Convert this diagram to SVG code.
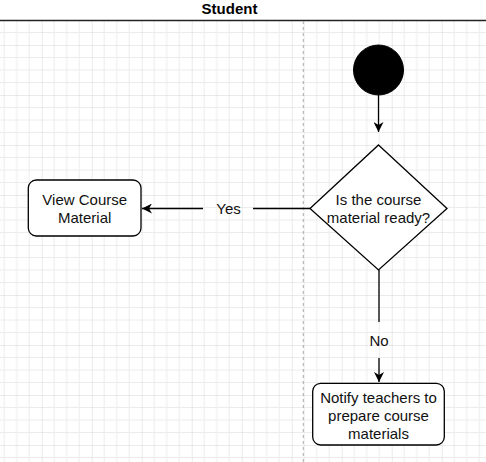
<svg xmlns="http://www.w3.org/2000/svg" width="486" height="462" viewBox="0 0 486 462">
  <style>
    .txt { font-family: "Liberation Sans", Arial, sans-serif; font-size: 15px; fill: #111; text-anchor: middle; dominant-baseline: central; }
    .title { font-family: "Liberation Sans", Arial, sans-serif; font-size: 15px; font-weight: bold; fill: #000; text-anchor: middle; dominant-baseline: central; }
    .node { fill: #fff; stroke: #000; stroke-width: 1.3; }
    .edge { fill: none; stroke: #000; stroke-width: 1.3; }
  </style>
  <defs>
    <pattern id="grid" x="41.7" y="45" width="50" height="50" patternUnits="userSpaceOnUse">
      <path d="M12.5 0V50M25 0V50M37.5 0V50M0 12.5H50M0 25H50M0 37.5H50" stroke="#ececec" stroke-width="1" fill="none"/>
      <path d="M0 0V50M0 0H50" stroke="#d6d6d6" stroke-width="1" fill="none"/>
    </pattern>
    <marker id="arrow" markerWidth="11" markerHeight="10" refX="10" refY="5" orient="auto" markerUnits="userSpaceOnUse">
      <path d="M0,0 L10,5 L0,10 L3,5 Z" fill="#000"/>
    </marker>
  </defs>
  <rect x="0" y="0" width="486" height="462" fill="#fff"/>
  <rect x="0" y="21" width="486" height="441" fill="url(#grid)"/>
  <g id="lane">
    <text class="title" x="229.5" y="8">Student</text>
    <line x1="0" y1="20.5" x2="486" y2="20.5" stroke="#222" stroke-width="1.3"/>
    <line x1="303.3" y1="21" x2="303.3" y2="462" stroke="#aaa" stroke-width="1" stroke-dasharray="3 3"/>
  </g>
  <g id="connectors">
    <line class="edge" x1="378.5" y1="95" x2="378.5" y2="132" marker-end="url(#arrow)"/>
    <path class="edge" d="M310 208.5H253M203 208.5H142" marker-end="url(#arrow)"/>
    <text class="txt" x="228.5" y="208.5">Yes</text>
    <path class="edge" d="M379 270V322M379 358V382" marker-end="url(#arrow)"/>
    <text class="txt" x="379" y="340">No</text>
  </g>
  <g id="start">
    <circle cx="378.5" cy="70" r="25" fill="#000" stroke="#000"/>
  </g>
  <g id="decision">
    <polygon class="node" points="378.5,145 447,208.5 378.5,270 310,208.5"/>
    <text class="txt" x="378.5" y="199.5">Is the course</text>
    <text class="txt" x="378.5" y="217.5">material ready?</text>
  </g>
  <g id="view">
    <rect class="node" x="28.3" y="180" width="112.7" height="56" rx="8"/>
    <text class="txt" x="84.7" y="199.5">View Course</text>
    <text class="txt" x="84.7" y="217.5">Material</text>
  </g>
  <g id="notify">
    <rect class="node" x="312.7" y="383.3" width="131.6" height="61.7" rx="8"/>
    <text class="txt" x="378.5" y="397.5">Notify teachers to</text>
    <text class="txt" x="378.5" y="415.5">prepare course</text>
    <text class="txt" x="378.5" y="433.5">materials</text>
  </g>
</svg>
